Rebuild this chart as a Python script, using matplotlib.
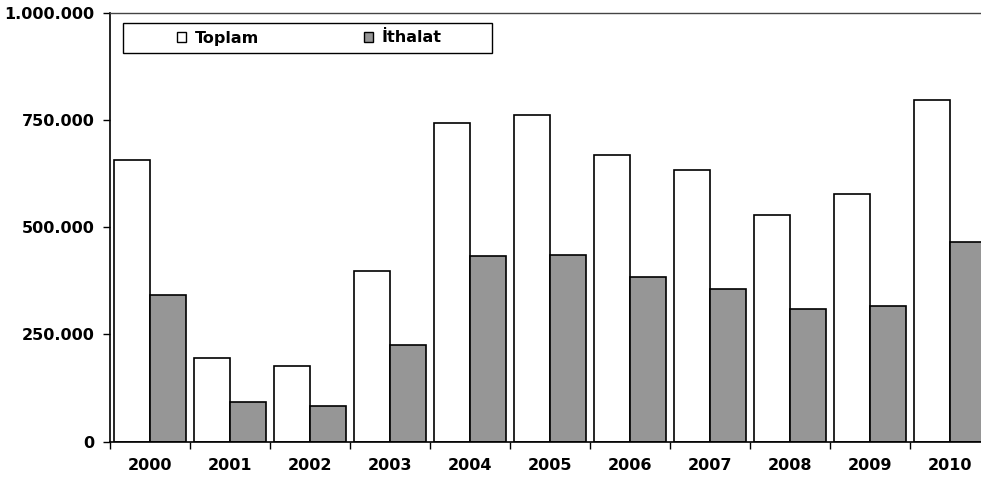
import numpy as np
import matplotlib.pyplot as plt
from matplotlib.patches import Patch, Rectangle
from matplotlib.ticker import FuncFormatter, FixedLocator

years = ["2000", "2001", "2002", "2003", "2004", "2005",
         "2006", "2007", "2008", "2009", "2010"]
toplam = [656000, 195000, 176000, 397000, 742000, 761000,
          668000, 634000, 528000, 578000, 796000]
ithalat = [341000, 93000, 83000, 224000, 432000, 435000,
           383000, 356000, 308000, 316000, 464000]

W, H = 981, 480
fig = plt.figure(figsize=(W / 100, H / 100), dpi=100)
left, right, top, bottom = 110, 990, 12.5, 441.5
ax = fig.add_axes([left / W, 1 - bottom / H, (right - left) / W, (bottom - top) / H])

x = np.arange(len(years))
bw = 0.45
ax.bar(x - bw / 2, toplam, bw, color="white", edgecolor="black", linewidth=1.2)
ax.bar(x + bw / 2, ithalat, bw, color="#969696", edgecolor="black", linewidth=1.2)

ax.set_xlim(-0.5, len(years) - 0.5)
ax.set_ylim(0, 1000000)

font = dict(fontsize=11.5, fontweight="bold")
ax.set_yticks([0, 250000, 500000, 750000, 1000000])
ax.yaxis.set_major_formatter(FuncFormatter(lambda v, p: f"{int(v):,}".replace(",", ".")))
ax.tick_params(axis="y", direction="out", length=5, width=1, pad=6)
for lbl in ax.get_yticklabels():
    lbl.set_fontsize(11.5)
    lbl.set_fontweight("bold")

# year labels centred, ticks on category boundaries
ax.set_xticks(x)
ax.set_xticklabels(years, **font)
ax.tick_params(axis="x", which="major", length=0, pad=12)
ax.xaxis.set_minor_locator(FixedLocator(np.arange(len(years) + 1) - 0.5))
ax.tick_params(axis="x", which="minor", direction="out", length=5, width=1)

ax.spines["left"].set_linewidth(1.2)
ax.spines["bottom"].set_linewidth(1.2)
ax.spines["top"].set_color("#444444")
ax.spines["top"].set_linewidth(1)
ax.spines["right"].set_visible(False)

# legend box drawn by hand, entries placed inside it
fig.patches.append(Rectangle((123 / W, 1 - 53 / H), (492 - 123) / W, 30 / H,
                             transform=fig.transFigure, facecolor="white",
                             edgecolor="black", linewidth=1, zorder=5))
handles = [Patch(facecolor="white", edgecolor="black", linewidth=1),
           Patch(facecolor="#969696", edgecolor="black", linewidth=1)]
leg = fig.legend(handles, ["Toplam", "İthalat"], ncol=2,
                 loc="center left", bbox_to_anchor=(177 / W, 1 - 38 / H),
                 prop=dict(size=11.5, weight="bold"), frameon=False,
                 handlelength=0.55, handleheight=0.55, handletextpad=0.55,
                 columnspacing=6.6, borderpad=0, borderaxespad=0)
leg.set_zorder(6)

fig.savefig("out.png", dpi=100)
